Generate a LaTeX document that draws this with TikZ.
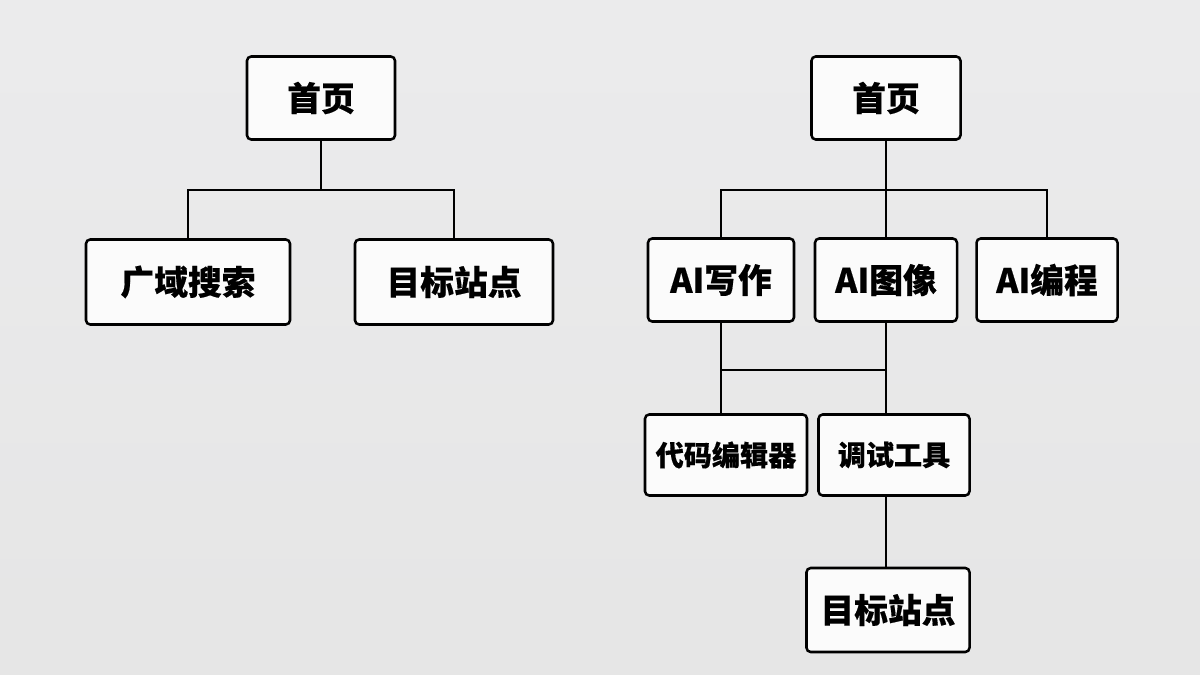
\documentclass[tikz,border=0pt]{standalone}
\usepackage{fontspec}
\setmainfont{Noto Sans CJK SC}[FakeBold=0.4]
\usetikzlibrary{positioning}

\tikzset{
  box/.style={draw, line width=1.8pt, rounded corners=3pt, fill=white!97!gray, align=center, inner sep=0pt},
  big/.style={box, font=\fontsize{24}{26}\bfseries\selectfont},
  small/.style={box, font=\fontsize{20}{22}\bfseries\selectfont},
  link/.style={line width=1.6pt}
}

\begin{document}
\begin{tikzpicture}[x=0.025cm, y=-0.025cm]
% background
	\shade[top color=blue!3!gray!15, bottom color=gray!20] (0,0) rectangle (1200,675);
	\useasboundingbox (0,0) rectangle (1200,675);

% left tree
	\node[big, minimum width=148*0.025cm, minimum height=83*0.025cm] (homeL) at (321,98) {首页};
	\node[big, minimum width=204*0.025cm, minimum height=85*0.025cm] (search) at (188,282) {广域搜索};
	\node[big, minimum width=198*0.025cm, minimum height=85*0.025cm] (siteL) at (454,282) {目标站点};
	\coordinate (busL) at (321,190);
	\draw[link] (homeL) -- (busL);
	\draw[link] (search.north) |- (busL) -| (siteL.north);

% right tree
	\node[big, minimum width=149*0.025cm, minimum height=83*0.025cm] (homeR) at (886,98) {首页};
	\node[big, minimum width=146*0.025cm, minimum height=83*0.025cm] (write) at (721,280) {AI写作};
	\node[big, minimum width=142*0.025cm, minimum height=83*0.025cm] (image) at (886,280) {AI图像};
	\node[big, minimum width=141*0.025cm, minimum height=83*0.025cm] (code) at (1047,280) {AI编程};
	\coordinate (busR) at (886,190);
	\draw[link] (homeR) -- (image);
	\draw[link] (write.north) |- (busR) -| (code.north);

	\node[small, minimum width=162*0.025cm, minimum height=81*0.025cm] (editor) at (726,455) {代码编辑器};
	\node[small, minimum width=151*0.025cm, minimum height=81*0.025cm] (debug) at (894,455) {调试工具};
	\node[big, minimum width=163*0.025cm, minimum height=84*0.025cm] (siteR) at (888,610) {目标站点};
	\coordinate (j1) at (721,370);
	\coordinate (j2) at (886,370);
	\draw[link] (write.south) -- (write.south |- editor.north);
	\draw[link] (image.south) -- (image.south |- debug.north);
	\draw[link] (j1) -- (j2);
	\draw[link] (siteR.north -| j2) -- (j2 |- debug.south);
\end{tikzpicture}
\end{document}
